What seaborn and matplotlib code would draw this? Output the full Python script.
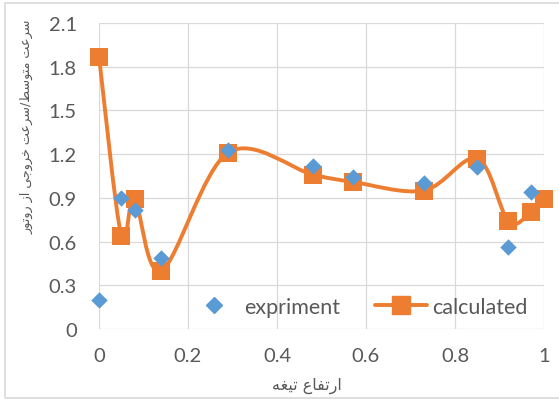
import numpy as np
import pandas as pd
import matplotlib
matplotlib.use("Agg")
import matplotlib.pyplot as plt
import seaborn as sns
from matplotlib.path import Path
from matplotlib.patches import PathPatch, Rectangle
from matplotlib.lines import Line2D

# ---------------- data ----------------
exp_x = [0.0, 0.05, 0.08, 0.14, 0.29, 0.48, 0.57, 0.73, 0.85, 0.92, 0.97]
exp_y = [0.20, 0.90, 0.82, 0.49, 1.23, 1.12, 1.04, 1.00, 1.11, 0.56, 0.94]
calc_x = [0.0, 0.05, 0.08, 0.14, 0.29, 0.48, 0.57, 0.73, 0.85, 0.92, 0.97, 1.0]
calc_y = [1.87, 0.64, 0.89, 0.40, 1.21, 1.06, 1.01, 0.95, 1.17, 0.74, 0.80, 0.89]
x_ticks = [0, 0.2, 0.4, 0.6, 0.8, 1.0]
x_tick_labels = ["0", "0.2", "0.4", "0.6", "0.8", "1"]
y_ticks = [0, 0.3, 0.6, 0.9, 1.2, 1.5, 1.8, 2.1]
y_tick_labels = ["0", "0.3", "0.6", "0.9", "1.2", "1.5", "1.8", "2.1"]
series_names = ["expriment", "calculated"]
x_title = "ارتفاع تیغه"
y_title = "سرعت متوسط/سرعت خروجی از روتور"

BLUE = "#5B9BD5"
ORANGE = "#ED7D31"
GRID = "#D9D9D9"
TXT = "#595959"

# --------- minimal Persian shaping (presentation forms + visual order) ---------
FORMS = {
    'ا': ('\uFE8D', '\uFE8E', None, None),
    'ر': ('\uFEAD', '\uFEAE', None, None),
    'ز': ('\uFEAF', '\uFEB0', None, None),
    'و': ('\uFEED', '\uFEEE', None, None),
    'س': ('\uFEB1', '\uFEB2', '\uFEB3', '\uFEB4'),
    'ع': ('\uFEC9', '\uFECA', '\uFECB', '\uFECC'),
    'ت': ('\uFE95', '\uFE96', '\uFE97', '\uFE98'),
    'م': ('\uFEE1', '\uFEE2', '\uFEE3', '\uFEE4'),
    'ط': ('\uFEC1', '\uFEC2', '\uFEC3', '\uFEC4'),
    'خ': ('\uFEA5', '\uFEA6', '\uFEA7', '\uFEA8'),
    'ج': ('\uFE9D', '\uFE9E', '\uFE9F', '\uFEA0'),
    'ی': ('\uFBFC', '\uFBFD', '\uFBFE', '\uFBFF'),
    'ف': ('\uFED1', '\uFED2', '\uFED3', '\uFED4'),
    'غ': ('\uFECD', '\uFECE', '\uFECF', '\uFED0'),
    'ه': ('\uFEE9', '\uFEEA', '\uFEEB', '\uFEEC'),
}


def shape(s):
    out = []
    for i, c in enumerate(s):
        if c not in FORMS:
            out.append(c)
            continue
        prev = s[i - 1] if i > 0 else None
        nxt = s[i + 1] if i + 1 < len(s) else None
        jp = prev in FORMS and FORMS[prev][2] is not None
        jn = nxt in FORMS and FORMS[c][2] is not None
        f = FORMS[c]
        if jp and jn:
            out.append(f[3])
        elif jp:
            out.append(f[1])
        elif jn:
            out.append(f[2])
        else:
            out.append(f[0])
    return ''.join(reversed(out))


# ---------------- figure ----------------
sns.set_style("white")
plt.rcParams['font.family'] = ['Lato', 'DejaVu Sans']

W, H = 559, 402
fig = plt.figure(figsize=(W / 100, H / 100), dpi=100)
ax = fig.add_axes([99 / W, 1 - 330 / H, (544 - 99) / W, (330 - 24) / H])

ax.set_xlim(0, 1)
ax.set_ylim(0, 2.1)
ax.set_xticks(x_ticks)
ax.set_xticklabels(x_tick_labels)
ax.set_yticks(y_ticks)
ax.set_yticklabels(y_tick_labels)
ax.grid(True, color=GRID, linewidth=0.9)
ax.set_axisbelow(True)
for sp in ax.spines.values():
    sp.set_visible(False)
ax.tick_params(axis='both', length=0, labelsize=14.5, labelcolor=TXT)
ax.tick_params(axis='x', pad=13)
ax.tick_params(axis='y', pad=16)

# smoothed line (Excel-like Bezier smoothing through calculated points)
px = np.array(calc_x, dtype=float)
py = np.array(calc_y, dtype=float)
n = len(px)
verts = [(px[0], py[0])]
codes = [Path.MOVETO]
for i in range(n - 1):
    i0 = max(i - 1, 0)
    i3 = min(i + 2, n - 1)
    c1 = (px[i] + (px[i + 1] - px[i0]) / 6, py[i] + (py[i + 1] - py[i0]) / 6)
    c2 = (px[i + 1] - (px[i3] - px[i]) / 6, py[i + 1] - (py[i3] - py[i]) / 6)
    verts += [c1, c2, (px[i + 1], py[i + 1])]
    codes += [Path.CURVE4] * 3
ax.add_patch(PathPatch(Path(verts, codes), facecolor='none', edgecolor=ORANGE,
                       lw=2.8, zorder=2, clip_on=False, capstyle='round', joinstyle='round'))

calc_df = pd.DataFrame({"x": calc_x, "y": calc_y})
exp_df = pd.DataFrame({"x": exp_x, "y": exp_y})
sns.scatterplot(data=calc_df, x="x", y="y", marker="s", s=175, color=ORANGE,
                edgecolor=ORANGE, linewidth=0, ax=ax, zorder=3, clip_on=False)
sns.scatterplot(data=exp_df, x="x", y="y", marker="D", s=70, color=BLUE,
                edgecolor=BLUE, linewidth=0, ax=ax, zorder=4, clip_on=False)
ax.set_xlabel("")
ax.set_ylabel("")

handles = [
    Line2D([], [], marker='D', color=BLUE, linestyle='none', markersize=8),
    Line2D([], [], marker='s', color=ORANGE, lw=2.8, markersize=13),
]
leg = ax.legend(handles, series_names, loc='center', bbox_to_anchor=(0.58, 0.072),
                ncol=2, frameon=False, fontsize=15.5, handlelength=2.45,
                handletextpad=0.2, columnspacing=1.6, labelcolor=TXT)

fig.text(307 / W, 1 - 386 / H, shape(x_title), ha='center', va='center',
         fontsize=11.5, color=TXT, family=['DejaVu Sans'])
fig.text(27 / W, 1 - 127 / H, shape(y_title), ha='center', va='center',
         rotation=90, fontsize=9.2, color=TXT, family=['DejaVu Sans'])

fig.patches.append(Rectangle((5 / W, 1 - 399 / H), 1.0, (399 - 4) / H,
                             transform=fig.transFigure, fill=False,
                             edgecolor=GRID, lw=1.2))

fig.savefig("out.png", dpi=100)
